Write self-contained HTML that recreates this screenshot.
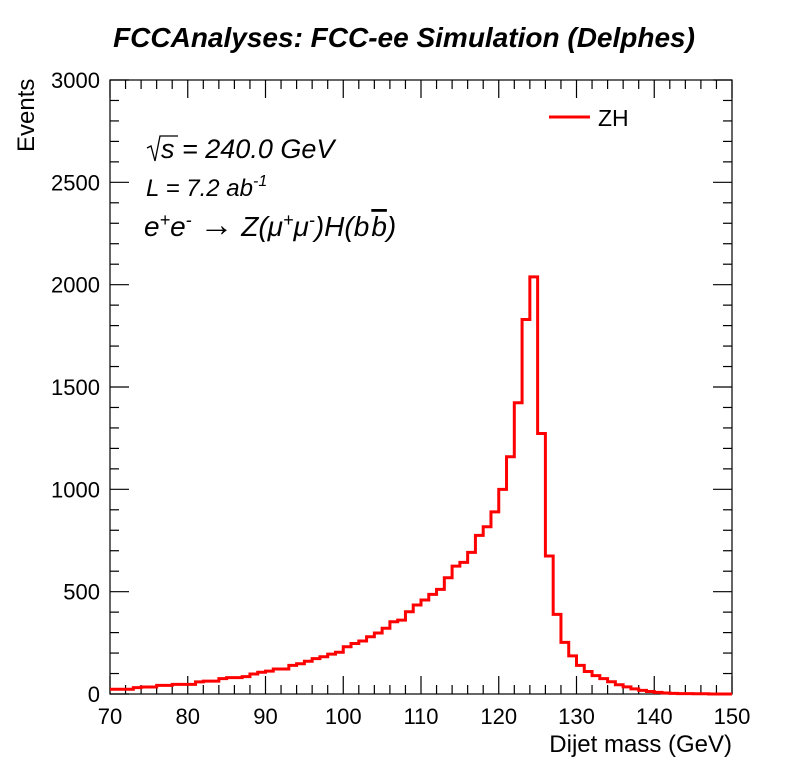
<!DOCTYPE html>
<html><head><meta charset="utf-8"><style>
body{margin:0;background:#fff;}
svg{display:block;font-family:"Liberation Sans",sans-serif;}
</style></head><body>
<svg id="chart" width="796" height="772" viewBox="0 0 796 772">
<rect width="796" height="772" fill="#fff"/>
<text x="404" y="47" text-anchor="middle" font-size="28" font-weight="bold" font-style="italic">FCCAnalyses: FCC-ee Simulation (Delphes)</text>
<g id="ticks"></g>
<rect x="110" y="80" width="622" height="614" fill="none" stroke="#000" stroke-width="1.2"/>
<path id="hist" fill="none" stroke="#f00" stroke-width="3"/>
<text x="732" y="752" text-anchor="end" font-size="24">Dijet mass (GeV)</text>
<text transform="translate(34,152) rotate(-90)" text-anchor="start" font-size="24">Events</text>
<g>
<line x1="549" y1="117" x2="590" y2="117" stroke="#f00" stroke-width="3"/>
<text x="598" y="126" font-size="23">ZH</text>
</g>
<g font-style="italic">
<path d="M147,148 L151,146 L155,161 L160,136 L178,136" fill="none" stroke="#000" stroke-width="1.3"/>
<text x="161" y="158" font-size="27">s = 240.0 GeV</text>
<text x="146" y="196" font-size="24">L = 7.2 ab<tspan dy="-10" font-size="16">-1</tspan></text>
<text x="144" y="236" font-size="28">e<tspan dy="-10" font-size="18">+</tspan><tspan dy="10">e</tspan><tspan dy="-10" font-size="18">-</tspan><tspan dy="10"> </tspan><tspan font-style="normal" font-size="34">→</tspan><tspan> Z(μ</tspan><tspan dy="-10" font-size="18">+</tspan><tspan dy="10">μ</tspan><tspan dy="-10" font-size="18">-</tspan><tspan dy="10">)H(b</tspan><tspan dx="2" text-decoration="overline">b</tspan>)</text>
</g>
</svg>
<script>
const binEdgesStart = 70;
const binWidth = 1;
const counts = [23,23,23,31,34,34,42,42,47,47,47,59,63,63,75,80,80,85,98,106,
112,122,122,140,148,160,173,182,195,204,231,247,259,280,298,321,353,361,402,435,
459,487,511,568,625,643,692,775,817,890,1000,1159,1423,1830,2038,1273,674,389,252,186,
140,110,90,75,60,45,35,25,18,12,8,5,3,2,2,1,1,0,0,0];
const xTicks = [70,80,90,100,110,120,130,140,150];
const yTicks = [0,500,1000,1500,2000,2500,3000];
const X0=110,X1=732,Y0=694,Y1=80;
const xs = v => X0 + (v-70)/(150-70)*(X1-X0);
const ys = v => Y0 - v/3000*(Y0-Y1);
const NS="http://www.w3.org/2000/svg";
let d = "M"+xs(binEdgesStart)+","+ys(counts[0]);
counts.forEach((c,i)=>{
  const a=binEdgesStart+i*binWidth;
  d += " L"+xs(a)+","+ys(c)+" L"+xs(a+binWidth)+","+ys(c);
});
document.getElementById('hist').setAttribute('d',d);
const g=document.getElementById('ticks');
function ln(x1,y1,x2,y2,name){
  const l=document.createElementNS(NS,'line');
  l.setAttribute('x1',x1);l.setAttribute('y1',y1);l.setAttribute('x2',x2);l.setAttribute('y2',y2);
  l.setAttribute('stroke','#000');l.setAttribute('stroke-width','1.2');
  
  
  g.appendChild(l);
}
function tx(x,y,s,anchor,name){
  const t=document.createElementNS(NS,'text');
  t.setAttribute('x',x);t.setAttribute('y',y);t.setAttribute('text-anchor',anchor);t.setAttribute('font-size','22');
  t.textContent=s;
  
  
  g.appendChild(t);
}
for(let v=70;v<=150;v+=2){
  const major=(v%10===0), L=major?18:9, x=xs(v);
  ln(x,Y0,x,Y0-L,'x-tick');
  ln(x,Y1,x,Y1+L,'x-tick-top');
}
xTicks.forEach(v=>tx(xs(v),724,String(v),'middle','x-tick-label'));
for(let v=0;v<=3000;v+=100){
  const major=(v%500===0), L=major?19:9, y=ys(v);
  ln(X0,y,X0+L,y,'y-tick');
  ln(X1,y,X1-L,y,'y-tick-right');
}
yTicks.forEach(v=>tx(100,ys(v)+8,String(v),'end','y-tick-label'));
</script>
</body></html>
